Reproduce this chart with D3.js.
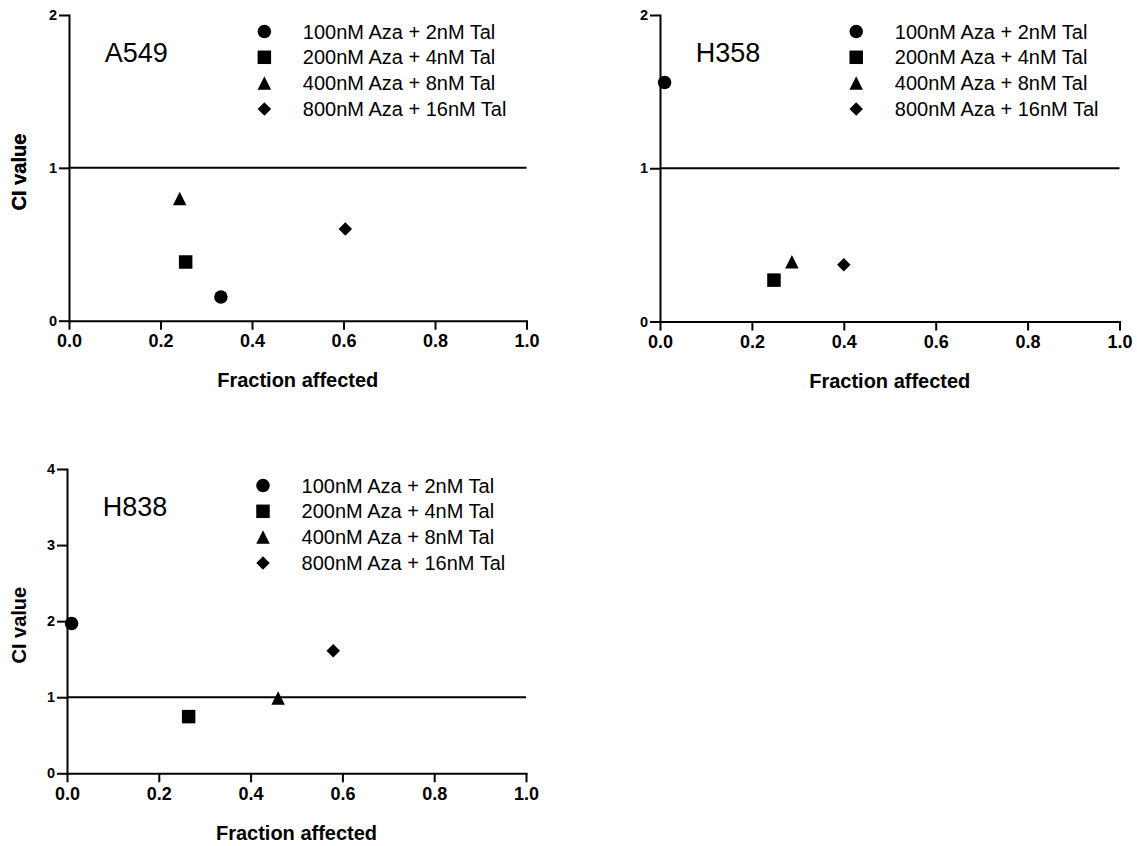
<!DOCTYPE html>
<html>
<head>
<meta charset="utf-8">
<script src="https://cdn.jsdelivr.net/npm/d3@7"></script>
<style>
  html, body { margin: 0; padding: 0; background: #fff; }
  svg { display: block; }
  text { font-family: "Liberation Sans", Arial, Helvetica, sans-serif; fill: #000; }
</style>
</head>
<body>
<svg id="chart" width="1137" height="846"></svg>
<script>
// Combination index (CI) vs fraction affected, per cell line
const cellLines = ["A549", "H358", "H838"];
const treatments = [
  "100nM Aza + 2nM Tal",
  "200nM Aza + 4nM Tal",
  "400nM Aza + 8nM Tal",
  "800nM Aza + 16nM Tal"
];
const markerShapes = ["circle", "square", "triangle", "diamond"];

const fractionA549 = [0.332, 0.255, 0.242, 0.604];
const ciA549       = [0.155, 0.384, 0.80, 0.60];
const fractionH358 = [0.01, 0.248, 0.287, 0.40];
const ciH358       = [1.56, 0.27, 0.39, 0.37];
const fractionH838 = [0.01, 0.265, 0.46, 0.58];
const ciH838       = [1.97, 0.745, 0.99, 1.61];

const xTicks = [0, 0.2, 0.4, 0.6, 0.8, 1.0];
const yTicksA549 = [0, 1, 2];
const yTicksH358 = [0, 1, 2];
const yTicksH838 = [0, 1, 2, 3, 4];
const ciThreshold = 1;

const xTitle = "Fraction affected";
const yTitle = "CI value";

// panel frames in page pixels
const panels = [
  { name: cellLines[0], fx: fractionA549, ci: ciA549, yTicks: yTicksA549, left: 69, right: 526.5, top: 15, bottom: 320.7 },
  { name: cellLines[1], fx: fractionH358, ci: ciH358, yTicks: yTicksH358, left: 660, right: 1119.5, top: 15, bottom: 321.5 },
  { name: cellLines[2], fx: fractionH838, ci: ciH838, yTicks: yTicksH838, left: 67, right: 526, top: 469, bottom: 773.3 }
];

// marker shapes, all sized to a ~13.5px box
const S = 13.5;
const symbolTypes = {
  circle:   { draw(ctx) { const r = S / 2; ctx.moveTo(r, 0); ctx.arc(0, 0, r, 0, 2 * Math.PI); } },
  square:   { draw(ctx) { const h = S / 2; ctx.moveTo(-h, -h); ctx.lineTo(h, -h); ctx.lineTo(h, h); ctx.lineTo(-h, h); ctx.closePath(); } },
  triangle: { draw(ctx) { const h = S / 2; ctx.moveTo(0, -h); ctx.lineTo(h, h); ctx.lineTo(-h, h); ctx.closePath(); } },
  diamond:  { draw(ctx) { const h = S / 2; ctx.moveTo(0, -h); ctx.lineTo(h, 0); ctx.lineTo(0, h); ctx.lineTo(-h, 0); ctx.closePath(); } }
};
const symbolPath = shape => d3.symbol().type(symbolTypes[shape])();

const svg = d3.select("#chart");

panels.forEach(p => {
  const yMax = d3.max(p.yTicks);
  const x = d3.scaleLinear().domain([0, 1]).range([p.left, p.right]);
  const y = d3.scaleLinear().domain([0, yMax]).range([p.bottom, p.top]);
  const g = svg.append("g");

  // CI = 1 reference line
  g.append("line")
    .attr("x1", x(0)).attr("x2", x(1))
    .attr("y1", y(ciThreshold)).attr("y2", y(ciThreshold))
    .attr("stroke", "#000").attr("stroke-width", 2);

  // axes
  const xAxis = g.append("g")
    .attr("transform", `translate(0,${y(0)})`)
    .call(d3.axisBottom(x).tickValues(xTicks).tickFormat(d3.format(".1f"))
      .tickSize(9).tickSizeOuter(0).tickPadding(5));
  xAxis.selectAll("text").attr("font-size", 18).attr("font-weight", "bold")
    .style("font-family", '"Liberation Sans", Arial, sans-serif');

  const yAxis = g.append("g")
    .attr("transform", `translate(${x(0)},0)`)
    .call(d3.axisLeft(y).tickValues(p.yTicks).tickFormat(d3.format("d"))
      .tickSize(10).tickSizeOuter(0).tickPadding(2));
  yAxis.selectAll("text").attr("font-size", 14.5).attr("font-weight", "bold")
    .style("font-family", '"Liberation Sans", Arial, sans-serif');

  [xAxis, yAxis].forEach(a => {
    a.select(".domain").attr("stroke", "#000").attr("stroke-width", 2).attr("stroke-linecap", "square");
    a.selectAll(".tick line").attr("stroke", "#000").attr("stroke-width", 2);
    a.selectAll(".tick text").attr("fill", "#000");
  });

  // axis titles
  g.append("text")
    .attr("x", (x(0) + x(1)) / 2).attr("y", y(0) + 66.7)
    .attr("text-anchor", "middle").attr("font-size", 20).attr("font-weight", "bold")
    .text(xTitle);
  g.append("text")
    .attr("transform", `translate(19,${(y(0) + y(yMax)) / 2 + 4}) rotate(-90)`)
    .attr("dy", "0.35em")
    .attr("text-anchor", "middle").attr("font-size", 20).attr("font-weight", "bold")
    .text(yTitle);

  // cell line label
  const w = x(1) - x(0);
  g.append("text")
    .attr("x", x(0) + w * 0.078).attr("y", y(yMax) + 38)
    .attr("dy", "0.35em").attr("font-size", 27)
    .text(p.name);

  // legend
  const legend = g.append("g");
  treatments.forEach((t, i) => {
    const ly = y(yMax) + 16.5 + i * 25.8;
    legend.append("path")
      .attr("d", symbolPath(markerShapes[i]))
      .attr("transform", `translate(${x(0) + w * 0.427},${ly})`)
      .attr("fill", "#000");
    legend.append("text")
      .attr("x", x(0) + w * 0.511).attr("y", ly)
      .attr("dy", "0.35em").attr("font-size", 20)
      .text(t);
  });

  // data points
  g.append("g").selectAll("path")
    .data(treatments.map((t, i) => ({ shape: markerShapes[i], fx: p.fx[i], ci: p.ci[i] })))
    .join("path")
    .attr("d", d => symbolPath(d.shape))
    .attr("transform", d => `translate(${x(d.fx)},${y(d.ci)})`)
    .attr("fill", "#000");
});
</script>
</body>
</html>
